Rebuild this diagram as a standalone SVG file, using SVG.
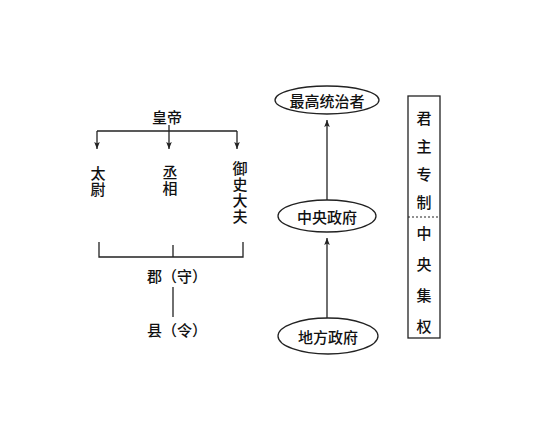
<svg xmlns="http://www.w3.org/2000/svg" width="545" height="425" viewBox="0 0 545 425">
<style>
text{font-family:"Noto Sans CJK SC","Noto Sans",sans-serif;font-size:15px;font-weight:500;fill:#111;text-anchor:middle;dominant-baseline:central}
text.v{writing-mode:vertical-rl;text-anchor:start;letter-spacing:1px}
.ln{stroke:#222;stroke-width:1.3;fill:none}
.el{stroke:#222;stroke-width:1.3;fill:#fff}
</style>
<defs>
<marker id="ah" viewBox="0 0 10 10" refX="10" refY="5" markerWidth="8" markerHeight="7" markerUnits="userSpaceOnUse" orient="auto">
<path d="M0,1 L10,5 L0,9 L2,5 z" fill="#222"/>
</marker>
</defs>
<rect width="545" height="425" fill="#fff"/>
<g id="connectors">
<path class="ln" d="M97,131 H237"/>
<path class="ln" d="M97,131 V149" marker-end="url(#ah)"/>
<path class="ln" d="M169,125 V149" marker-end="url(#ah)"/>
<path class="ln" d="M237,131 V149" marker-end="url(#ah)"/>
<path class="ln" d="M99,242 V257 H243 V242 M173,245 V257"/>
<path class="ln" d="M173,287 V317"/>
<path class="ln" d="M327,318 V238" marker-end="url(#ah)"/>
<path class="ln" d="M327,200 V120" marker-end="url(#ah)"/>
</g>
<g id="emperor"><text x="167" y="116">皇帝</text></g>
<g id="taiwei"><text class="v" x="98" y="165.5">太尉</text></g>
<g id="chengxiang"><text class="v" x="170" y="164.5">丞相</text></g>
<g id="yushidafu"><text class="v" x="240" y="160.5">御史大夫</text></g>
<g id="jun"><text x="177" y="275">郡（守）</text></g>
<g id="xian"><text x="177" y="329">县（令）</text></g>
<g id="supreme"><ellipse class="el" cx="327" cy="100" rx="52" ry="14"/><text x="327" y="100">最高统治者</text></g>
<g id="central"><ellipse class="el" cx="327" cy="216" rx="49" ry="16"/><text x="327" y="216">中央政府</text></g>
<g id="local"><ellipse class="el" cx="328" cy="336" rx="50" ry="18"/><text x="328" y="336">地方政府</text></g>
<g id="column">
<rect class="ln" x="408" y="96" width="32" height="242"/>
<path d="M408,217 H440" stroke="#222" stroke-width="1" stroke-dasharray="2,2"/>
<text class="v" x="424" y="110.5" style="letter-spacing:13px">君主专制</text>
<text class="v" x="424" y="225.5" style="letter-spacing:16px">中央集权</text>
</g>
</svg>
